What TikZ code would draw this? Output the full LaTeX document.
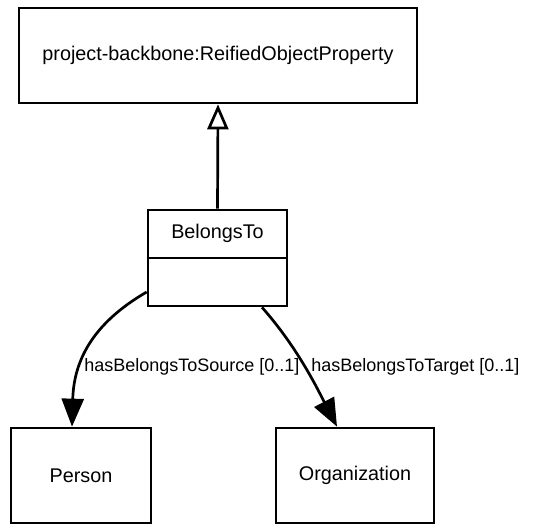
\documentclass[tikz,border=0pt]{standalone}
\usepackage{fontspec}
\setmainfont{Liberation Sans}
\usetikzlibrary{arrows.meta}

\begin{document}
\begin{tikzpicture}[
        x=1pt, y=-1pt,
        line width=2.7pt,
        box/.style={draw, rectangle, align=center, inner sep=0pt, font=\fontsize{19.8}{23}\selectfont},
        boxtext/.style={inner sep=0pt, font=\fontsize{19.8}{23}\selectfont},
        edgelabel/.style={anchor=west, inner sep=0pt, font=\fontsize{18}{21}\selectfont},
        isa/.style={-{Triangle[open, length=25pt, width=21pt]}},
        link/.style={-{Triangle[length=28pt, width=22pt]}}
    ]
    \useasboundingbox (0,0) rectangle (537,525);
    % Nodes
    \node (reified) [box, minimum width=398pt, minimum height=95pt] at (218,55.5) {project-backbone:ReifiedObjectProperty};
    \node (belongs) [box, minimum width=139pt, minimum height=96pt] at (217.5,258) {};
    \node (belongsname) [boxtext] at (217.5,233.5) {BelongsTo};
    \draw (belongs.west) -- (belongs.east);
    \node (person) [box, minimum width=140pt, minimum height=95pt] at (81,475.5) {Person};
    \node (org) [box, minimum width=158pt, minimum height=95pt] at (355,475.5) {Organization};
    \node (sourcelabel) [edgelabel] at (83,367) {hasBelongsToSource [0..1]};
    \node (targetlabel) [edgelabel] at (310,367) {hasBelongsToTarget [0..1]};

    % Arrows
    \draw[isa] (belongs.north) -- (reified.south);
    \draw[link] ([yshift=-34pt]belongs.west) .. controls (102,318) and (74,352) .. ([xshift=-9pt]person.north);
    \draw[link] ([xshift=44.5pt]belongs.south) .. controls (298,348) and (318,390) .. ([xshift=-18pt]org.north);
\end{tikzpicture}
\end{document}
